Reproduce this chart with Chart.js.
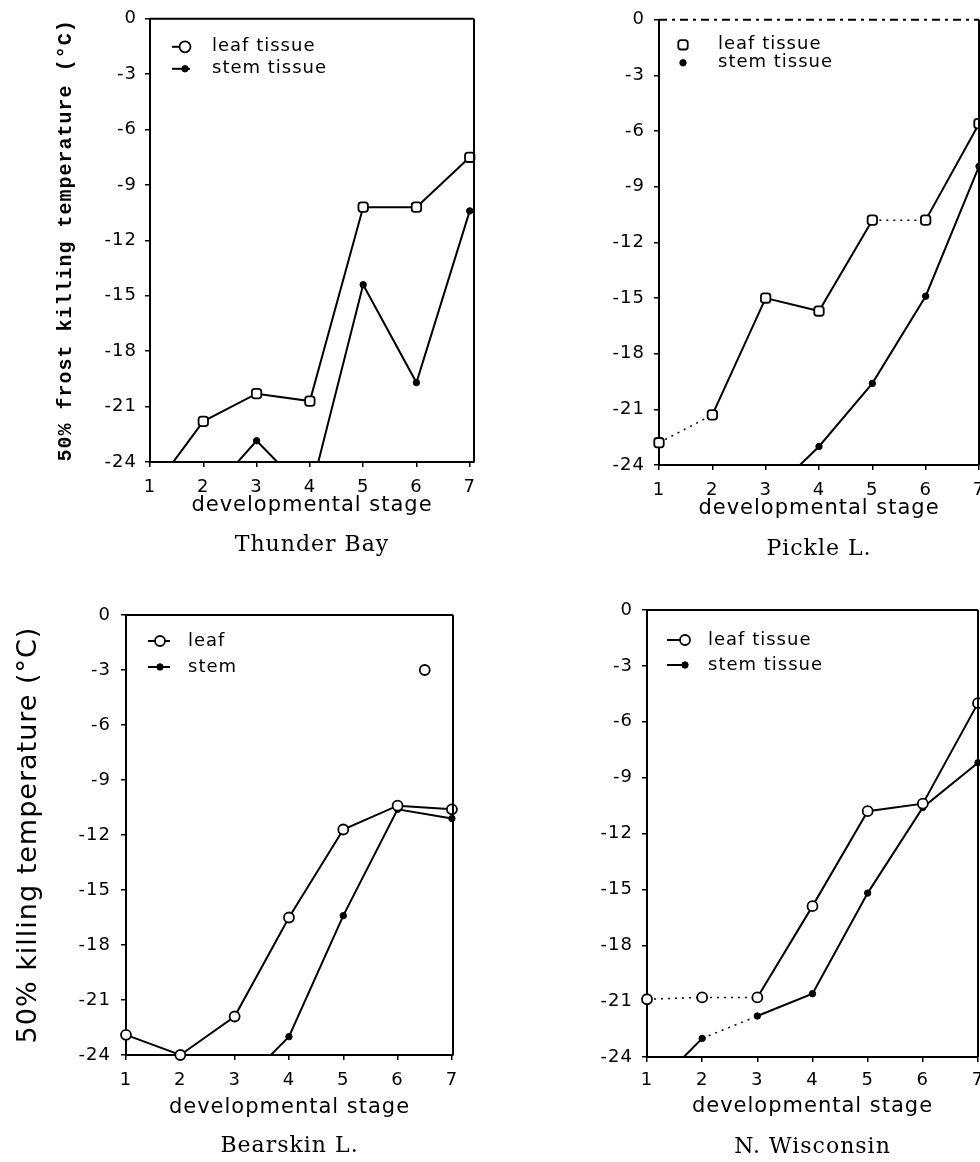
<!DOCTYPE html>
<html>
<head>
<meta charset="utf-8">
<title>50% frost killing temperature vs developmental stage</title>
<script src="https://cdn.jsdelivr.net/npm/chart.js@4.4.1/dist/chart.umd.min.js"></script>
<style>
  html, body { margin: 0; padding: 0; background: #fff; }
  body { position: relative; width: 980px; height: 1162px; overflow: hidden; }
  canvas { position: absolute; }
</style>
</head>
<body>
<canvas id="thunderBay"></canvas>
<canvas id="pickleL"></canvas>
<canvas id="bearskinL"></canvas>
<canvas id="nWisconsin"></canvas>
<script>
// etapas de desarrollo (eje x) y marcas del eje y
const etapas = [1, 2, 3, 4, 5, 6, 7];
const ticksY = [0, -3, -6, -9, -12, -15, -18, -21, -24];

// Thunder Bay (valores bajo -24 quedan fuera del grafico y se recortan)
const thunderHoja = [-25.7, -21.8, -20.3, -20.7, -10.2, -10.2, -7.5];
const thunderTallo = [null, -26.1, -22.85, -25.8, -14.4, -19.7, -10.4];

// Pickle L.
const pickleHoja = [-22.8, -21.3, -15.0, -15.7, -10.8, -10.8, -5.6];
const pickleTallo = [null, null, -25.8, -23.0, -19.6, -14.9, -7.9];

// Bearskin L.
const bearskinHoja = [-22.9, -24.0, -21.9, -16.5, -11.7, -10.4, -10.6];
const bearskinTallo = [null, null, -26.0, -23.0, -16.4, -10.6, -11.1];
const bearskinSueltoX = [6.5];
const bearskinSueltoY = [-3.0];

// N. Wisconsin
const wiscHoja = [-20.9, -20.8, -20.8, -15.9, -10.8, -10.4, -5.0];
const wiscTallo = [-26.0, -23.0, -21.8, -20.6, -15.2, -10.6, -8.2];

const Y_MIN = -24;
const NEGRO = '#000';

const paneles = [
    {
        id: 'thunderBay', sitio: 'Thunder Bay',
        hoja: thunderHoja, tallo: thunderTallo,
        etiquetas: ['leaf tissue', 'stem tissue'],
        canvas: { left: 0, top: 0, width: 490, height: 560 },
        area: { left: 150, top: 14, right: 474, bottom: 462 },
        xMax: 7.08,
        tituloY: { text: '50% frost killing temperature (°C)', family: 'Liberation Mono', size: 20, weight: 'bold', centroX: 66 },
        etiquetaYDerecha: 137,
        ticksX: 487, tituloX: 506, sitioY: 545,
        marcaHoja: 'rectRounded', radioHoja: 5.5, marcaLeyenda: 'circle',
        punteadoHoja: [], punteadoTallo: [],
        leyenda: { linea: [22, 40], marca: 35, texto: 62, filas: [28, 50] },
        bordeSuperior: []
    },
    {
        id: 'pickleL', sitio: 'Pickle L.',
        hoja: pickleHoja, tallo: pickleTallo,
        etiquetas: ['leaf tissue', 'stem tissue'],
        canvas: { left: 490, top: 0, width: 520, height: 560 },
        area: { left: 659, top: 17, right: 979, bottom: 465 },
        xMax: 7.0,
        tituloY: null,
        etiquetaYDerecha: 645,
        ticksX: 490, tituloX: 509, sitioY: 549,
        marcaHoja: 'rectRounded', radioHoja: 5.5, marcaLeyenda: 'rectRounded',
        punteadoHoja: [0, 4], punteadoTallo: [],
        leyenda: { linea: null, marca: 24, texto: 59, filas: [25, 43] },
        bordeSuperior: [8, 5, 3, 5]
    },
    {
        id: 'bearskinL', sitio: 'Bearskin L.',
        hoja: bearskinHoja, tallo: bearskinTallo,
        sueltoX: bearskinSueltoX, sueltoY: bearskinSueltoY,
        etiquetas: ['leaf', 'stem'],
        canvas: { left: 0, top: 560, width: 490, height: 602 },
        area: { left: 126, top: 615, right: 453, bottom: 1055 },
        xMax: 7.02,
        tituloY: { text: '50% killing temperature (°C)', family: 'DejaVu Sans', size: 27, weight: 'normal', centroX: 29 },
        etiquetaYDerecha: 111,
        ticksX: 1080, tituloX: 1108, sitioY: 1146,
        marcaHoja: 'circle', radioHoja: 5, marcaLeyenda: 'circle',
        punteadoHoja: [], punteadoTallo: [],
        leyenda: { linea: [22, 44], marca: 34, texto: 62, filas: [26, 52] },
        bordeSuperior: []
    },
    {
        id: 'nWisconsin', sitio: 'N. Wisconsin',
        hoja: wiscHoja, tallo: wiscTallo,
        etiquetas: ['leaf tissue', 'stem tissue'],
        canvas: { left: 490, top: 560, width: 520, height: 602 },
        area: { left: 647, top: 610, right: 978, bottom: 1057 },
        xMax: 7.0,
        tituloY: null,
        etiquetaYDerecha: 633,
        ticksX: 1080, tituloX: 1107, sitioY: 1147,
        marcaHoja: 'circle', radioHoja: 5, marcaLeyenda: 'circle',
        punteadoHoja: [0, 1], punteadoTallo: [1],
        leyenda: { linea: [20, 36], marca: 38, texto: 61, filas: [30, 55] },
        bordeSuperior: []
    }
];

// marco superior/derecho y espaciado de letras como el original
const marco = {
    id: 'marco',
    beforeDraw(chart) {
        chart.ctx.letterSpacing = '1px';
    },
    afterDraw(chart, args, opts) {
        const { ctx, chartArea: a } = chart;
        ctx.save();
        ctx.strokeStyle = NEGRO;
        ctx.lineWidth = 2;
        ctx.setLineDash(opts.dash || []);
        ctx.beginPath();
        ctx.moveTo(a.left, a.top);
        ctx.lineTo(a.right, a.top);
        ctx.stroke();
        ctx.setLineDash([]);
        ctx.beginPath();
        ctx.moveTo(a.right, a.top);
        ctx.lineTo(a.right, a.bottom);
        ctx.stroke();
        ctx.restore();
    }
};

// leyenda dentro del area del grafico
const leyenda = {
    id: 'leyenda',
    afterDraw(chart, args, opts) {
        const { ctx, chartArea: a } = chart;
        opts.estilos.forEach((est, i) => {
            const ds = chart.data.datasets[i];
            const y = a.top + opts.filas[i];
            ctx.save();
            ctx.strokeStyle = NEGRO;
            ctx.lineWidth = 2;
            if (opts.linea) {
                ctx.beginPath();
                ctx.moveTo(a.left + opts.linea[0], y);
                ctx.lineTo(a.left + opts.linea[1], y);
                ctx.stroke();
            }
            ctx.fillStyle = est.relleno;
            ctx.lineWidth = est.borde;
            Chart.helpers.drawPoint(ctx, { pointStyle: est.forma, radius: est.radio, rotation: 0, borderWidth: est.borde }, a.left + opts.marca, y);
            ctx.fillStyle = NEGRO;
            ctx.font = '18px "DejaVu Sans"';
            ctx.textBaseline = 'middle';
            ctx.textAlign = 'left';
            ctx.fillText(ds.label, a.left + opts.texto, y);
            ctx.restore();
        });
    }
};

function serie(valores) {
    return etapas.map((x, i) => ({ x: x, y: valores[i] }));
}

function recorte(valores) {
    const bajo = valores.some(v => v !== null && v < Y_MIN);
    return bajo ? { left: 10, top: 10, right: 10, bottom: 0 } : false;
}

function radio(r) {
    return ctx => (ctx.raw && ctx.raw.y < Y_MIN) ? 0 : r;
}

function crearPanel(p) {
    const cv = document.getElementById(p.id);
    cv.width = p.canvas.width;
    cv.height = p.canvas.height;
    cv.style.left = p.canvas.left + 'px';
    cv.style.top = p.canvas.top + 'px';

    const tickLen = 5;
    const fTick = 18, fTituloX = 21, fSitio = 22;
    const altoTick = fTick * 1.2, altoTituloX = fTituloX * 1.2, altoSitio = fSitio * 1.2;
    const cajaSitio = p.sitioY - altoSitio / 2 - 2;
    const finCanvas = p.canvas.top + p.canvas.height;

    const estiloHoja = { forma: p.marcaLeyenda, radio: p.radioHoja, relleno: '#fff', borde: 1.8 };
    const estiloTallo = { forma: 'circle', radio: 3.2, relleno: NEGRO, borde: 1 };

    const datasets = [
        {
            label: p.etiquetas[0],
            data: serie(p.hoja),
            borderColor: NEGRO,
            borderWidth: 2,
            tension: 0,
            pointStyle: p.marcaHoja,
            pointRadius: radio(p.radioHoja),
            pointBackgroundColor: '#fff',
            pointBorderColor: NEGRO,
            pointBorderWidth: 1.8,
            clip: recorte(p.hoja),
            segment: {
                borderDash: ctx => p.punteadoHoja.includes(ctx.p0DataIndex) ? [2, 5] : undefined,
                borderWidth: ctx => p.punteadoHoja.includes(ctx.p0DataIndex) ? 1.5 : undefined
            }
        },
        {
            label: p.etiquetas[1],
            data: serie(p.tallo),
            borderColor: NEGRO,
            borderWidth: 2,
            tension: 0,
            pointStyle: 'circle',
            pointRadius: radio(3.2),
            pointBackgroundColor: NEGRO,
            pointBorderColor: NEGRO,
            pointBorderWidth: 1,
            clip: recorte(p.tallo),
            segment: {
                borderDash: ctx => p.punteadoTallo.includes(ctx.p0DataIndex) ? [2, 5] : undefined,
                borderWidth: ctx => p.punteadoTallo.includes(ctx.p0DataIndex) ? 1.5 : undefined
            }
        }
    ];
    if (p.sueltoX) {
        datasets.push({
            label: p.etiquetas[0],
            type: 'scatter',
            data: p.sueltoX.map((x, i) => ({ x: x, y: p.sueltoY[i] })),
            showLine: false,
            pointStyle: 'circle',
            pointRadius: p.radioHoja,
            pointBackgroundColor: '#fff',
            pointBorderColor: NEGRO,
            pointBorderWidth: 1.8
        });
    }

    const ejeY = {
        type: 'linear',
        min: Y_MIN,
        max: 0,
        afterBuildTicks: s => { s.ticks = ticksY.map(v => ({ value: v })); },
        afterFit: s => { s.width = p.area.left - p.canvas.left; },
        ticks: {
            color: NEGRO,
            font: { family: 'DejaVu Sans', size: fTick },
            padding: p.area.left - p.etiquetaYDerecha - tickLen
        },
        grid: { drawOnChartArea: false, drawTicks: true, tickLength: tickLen, color: NEGRO, lineWidth: 1.5 },
        border: { display: true, color: NEGRO, width: 2 }
    };
    if (p.tituloY) {
        const altoY = p.tituloY.size * 1.2;
        ejeY.title = {
            display: true,
            text: p.tituloY.text,
            color: NEGRO,
            font: { family: p.tituloY.family, size: p.tituloY.size, weight: p.tituloY.weight },
            padding: { top: p.tituloY.centroX - p.canvas.left - altoY / 2, bottom: 0 }
        };
    }

    new Chart(cv, {
        type: 'line',
        data: { datasets: datasets },
        options: {
            responsive: false,
            animation: false,
            devicePixelRatio: 1,
            layout: {
                padding: {
                    left: 0,
                    top: p.area.top - p.canvas.top,
                    right: p.canvas.left + p.canvas.width - p.area.right,
                    bottom: 0
                }
            },
            plugins: {
                legend: { display: false },
                tooltip: { enabled: false },
                title: { display: false },
                marco: { dash: p.bordeSuperior },
                leyenda: {
                    estilos: [estiloHoja, estiloTallo],
                    linea: p.leyenda.linea,
                    marca: p.leyenda.marca,
                    texto: p.leyenda.texto,
                    filas: p.leyenda.filas
                }
            },
            scales: {
                x: {
                    type: 'linear',
                    min: 1,
                    max: p.xMax,
                    weight: 0,
                    afterBuildTicks: s => { s.ticks = etapas.map(v => ({ value: v })); },
                    afterFit: s => { s.height = cajaSitio - p.area.bottom; },
                    ticks: {
                        color: NEGRO,
                        autoSkip: false,
                        maxRotation: 0,
                        font: { family: 'DejaVu Sans', size: fTick },
                        padding: p.ticksX - p.area.bottom - tickLen - altoTick / 2
                    },
                    grid: { drawOnChartArea: false, drawTicks: true, tickLength: tickLen, color: NEGRO, lineWidth: 1.5 },
                    border: { display: true, color: NEGRO, width: 2 },
                    title: {
                        display: true,
                        text: 'developmental stage',
                        color: NEGRO,
                        font: { family: 'DejaVu Sans', size: fTituloX },
                        padding: { top: 0, bottom: cajaSitio - p.tituloX - altoTituloX / 2 }
                    }
                },
                // eje auxiliar solo para el nombre del sitio, centrado bajo el grafico
                sitio: {
                    type: 'linear',
                    position: 'bottom',
                    weight: 1,
                    min: 1,
                    max: p.xMax,
                    afterFit: s => { s.height = finCanvas - cajaSitio; },
                    ticks: { display: false },
                    grid: { display: false, drawTicks: false },
                    border: { display: false },
                    title: {
                        display: true,
                        text: p.sitio,
                        color: NEGRO,
                        font: { family: 'DejaVu Serif', size: fSitio },
                        padding: { top: 0, bottom: finCanvas - p.sitioY - altoSitio / 2 }
                    }
                },
                y: ejeY
            }
        },
        plugins: [marco, leyenda]
    });
}

document.addEventListener('DOMContentLoaded', () => {
    paneles.forEach(crearPanel);
});
</script>
</body>
</html>
